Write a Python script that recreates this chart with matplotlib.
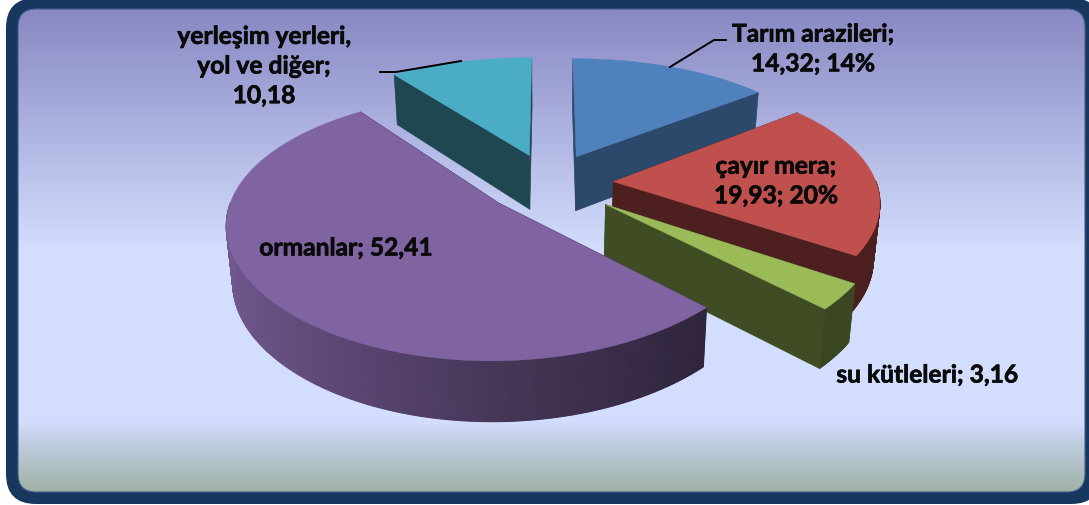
import numpy as np
import matplotlib
matplotlib.use('Agg')
import matplotlib.pyplot as plt
import matplotlib.patheffects as pe
from matplotlib.patches import FancyBboxPatch
from matplotlib.colors import to_rgb, LinearSegmentedColormap

# slice data, clockwise from 12 o'clock
names = ['Tarım arazileri', 'çayır mera', 'su kütleleri', 'ormanlar', 'yerleşim yerleri']
values = [14.32, 19.93, 3.16, 52.41, 10.18]
colors = ['#4F81BD', '#C0504D', '#9BBB59', '#8064A2', '#4BACC6']
cut_shade = [0.56, 0.40, 0.41, 0.40, 0.41]
explode = [0.245, 0.245, 0.27, 0.245, 0.245]
draw_order = [4, 0, 1, 2, 3]

label_texts = ['Tarım arazileri;\n14,32; 14%', 'çayır mera;\n19,93; 20%', 'su kütleleri; 3,16',
               'ormanlar; 52,41', 'yerleşim yerleri,\nyol ve diğer;\n10,18']
label_x = [813, 776, 927, 346, 264]
label_y = [50, 182, 376, 249, 67]

# projection of the tilted pie
CX, CY = 549, 184
A, B = 263, 123
KX, KY = 0.14, 0.17
DEPTH = 55


def project(u, v, low=False):
    x = CX + A * u / (1 + KX * v)
    y = CY - B * v / (1 + KY * v)
    if low:
        x = CX + (x - CX) * 0.98
        y = y + DEPTH - 5 * v
    return x, y


plt.rcParams['font.family'] = ['Lato', 'DejaVu Sans']
fig = plt.figure(figsize=(10.89, 5.06), dpi=100)
ax = fig.add_axes([0, 0, 1, 1])
ax.set_xlim(0, 1089)
ax.set_ylim(506, 0)
ax.axis('off')

# frame and background
outer = FancyBboxPatch((6, -1), 1095, 506, boxstyle='round,pad=0,rounding_size=30', fc='#17375E', ec='none')
ax.add_patch(outer)
inner = FancyBboxPatch((18, 10), 1067, 483, boxstyle='round,pad=0,rounding_size=18', fc='none', ec='#3F5F8A', lw=0.8, zorder=2)
ax.add_patch(inner)
stops = [(0.0, '#8888C3'), (0.5, '#D3DEFE'), (0.855, '#D3DEFE'), (0.9, '#BFCDE0'), (1.0, '#9FB2A5')]
cmap = LinearSegmentedColormap.from_list('bg', stops)
grad = np.linspace(0, 1, 256).reshape(-1, 1)
bg = ax.imshow(grad, cmap=cmap, extent=(18, 1085, 493, 10), aspect='auto', zorder=1)
bg.set_clip_path(inner)
ax.set_xlim(0, 1089)
ax.set_ylim(506, 0)

# slices
total = sum(values)
edges = np.cumsum([0] + values) / total * 2 * np.pi
for i in draw_order:
    col = np.array(to_rgb(colors[i]))
    n = max(int(values[i] * 8), 40)
    t = np.linspace(edges[i], edges[i + 1], n)
    mid = (edges[i] + edges[i + 1]) / 2
    ou, ov = explode[i] * np.sin(mid), explode[i] * np.cos(mid)
    u, v = np.sin(t) + ou, np.cos(t) + ov
    xt, yt = project(u, v)
    xb, yb = project(u, v, low=True)
    x0, y0 = project(ou, ov)
    x3, y3 = project(ou, ov, low=True)

    # is the cut face turned to the viewer? compare with the middle of the arc
    cuts = []
    for k in (0, -1):
        xm, ym = xt[n // 2], yt[n // 2]
        side = (xt[k] - x0) * (ym - y0) - (yt[k] - y0) * (xm - x0)
        front = side * (xt[k] - x0) < 0
        cuts.append((front, k))
    cuts.sort(key=lambda c: c[0])

    for front, k in cuts:
        if front:
            continue
        ax.fill([x0, xt[k], xb[k], x3], [y0, yt[k], yb[k], y3], color=col * cut_shade[i], lw=0.5, zorder=3)

    # rim, shaded left to right, only the part facing us
    for j in range(n - 1):
        if np.cos(t[j]) > 0 and np.cos(t[j + 1]) > 0:
            continue
        f = np.interp(np.sin(t[j]), [-1, 0, 0.7, 1], [0.88, 0.55, 0.37, 0.40])
        ax.fill([xt[j], xt[j + 1], xb[j + 1], xb[j]], [yt[j], yt[j + 1], yb[j + 1], yb[j]],
                color=col * f, lw=0.8, zorder=3)

    for front, k in cuts:
        if front:
            ax.fill([x0, xt[k], xb[k], x3], [y0, yt[k], yb[k], y3], color=col * cut_shade[i], lw=0.5, zorder=3)

    # top face
    ax.fill(np.r_[x0, xt], np.r_[y0, yt], color=col, lw=0.3, zorder=3)

# leader lines
ax.plot([380, 396, 461], [73, 73, 62], color='black', lw=1.4, zorder=4)
ax.plot([670, 714, 726], [68, 41, 41], color='black', lw=1.4, zorder=4)

for txt, lx, ly in zip(label_texts, label_x, label_y):
    ax.text(lx, ly, txt, ha='center', va='center', fontsize=17.7, fontweight='bold',
            color='#0A0A0A', linespacing=1.35, zorder=5,
            path_effects=[pe.withStroke(linewidth=0.5, foreground='#0A0A0A')])

fig.savefig('out.png', dpi=100, facecolor='white')
